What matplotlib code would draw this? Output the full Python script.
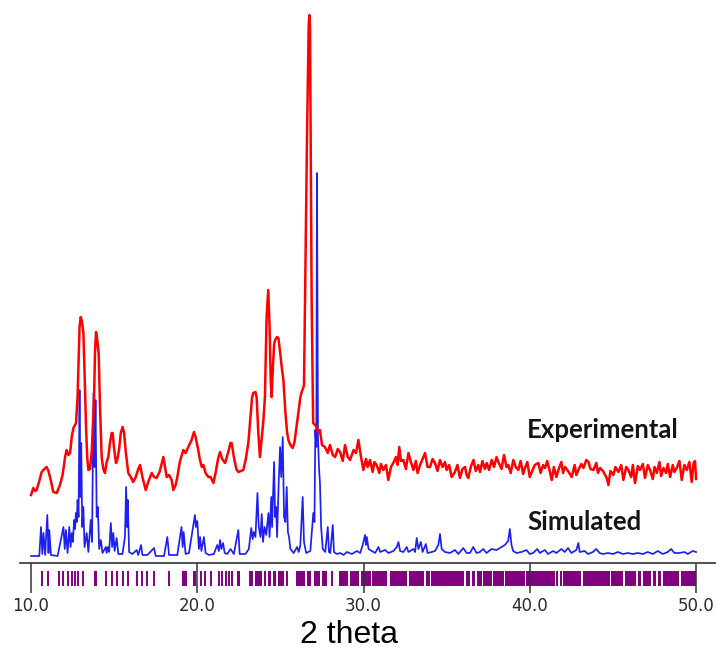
import numpy as np
import matplotlib
matplotlib.use('Agg')
import matplotlib.pyplot as plt

# experimental powder pattern (2theta, intensity)
exp_points = [
    (10.0, 62), (10.14, 69), (10.25, 66), (10.34, 67), (10.5, 76), (10.64, 85), (10.8, 88),
    (10.94, 90), (11.05, 86), (11.2, 76), (11.34, 65), (11.55, 64), (11.74, 72), (11.9, 82),
    (12.05, 100), (12.14, 107), (12.25, 102), (12.35, 104), (12.45, 120), (12.55, 129), (12.71, 134),
    (12.8, 160), (12.85, 190), (12.92, 230), (12.99, 240), (13.06, 236), (13.15, 224), (13.22, 185),
    (13.31, 130), (13.38, 100), (13.45, 87), (13.55, 88), (13.65, 105), (13.72, 130), (13.79, 157),
    (13.85, 205), (13.91, 225), (13.98, 218), (14.07, 204), (14.15, 150), (14.25, 100), (14.35, 88),
    (14.45, 84), (14.55, 95), (14.65, 100), (14.75, 114), (14.85, 124), (14.91, 124), (15.0, 108),
    (15.11, 94), (15.2, 98), (15.3, 108), (15.4, 124), (15.51, 130), (15.6, 124), (15.7, 105),
    (15.85, 84), (16.0, 80), (16.15, 75), (16.3, 80), (16.45, 88), (16.56, 92), (16.7, 80),
    (16.9, 67), (17.05, 75), (17.26, 84), (17.4, 80), (17.56, 79), (17.75, 86), (17.96, 100),
    (18.06, 90), (18.16, 80), (18.3, 82), (18.46, 77), (18.56, 67), (18.7, 72), (18.8, 80),
    (18.95, 95), (19.16, 107), (19.3, 104), (19.46, 110), (19.66, 117), (19.8, 125), (19.9, 120),
    (20.06, 107), (20.15, 98), (20.27, 90), (20.37, 92), (20.5, 84), (20.67, 80), (20.8, 80),
    (20.97, 74), (21.1, 84), (21.25, 98), (21.37, 105), (21.5, 98), (21.67, 94), (21.85, 104),
    (22.0, 114), (22.07, 114), (22.2, 100), (22.35, 88), (22.47, 85), (22.62, 86), (22.77, 87),
    (22.92, 98), (23.07, 114), (23.2, 140), (23.3, 160), (23.37, 164), (23.5, 165), (23.57, 160),
    (23.67, 125), (23.77, 100), (23.87, 118), (23.97, 135), (24.07, 160), (24.17, 240), (24.27, 267),
    (24.35, 230), (24.42, 175), (24.47, 160), (24.55, 190), (24.62, 212), (24.68, 217), (24.8, 220),
    (24.88, 219), (24.98, 205), (25.08, 190), (25.18, 177), (25.3, 145), (25.4, 125), (25.48, 117),
    (25.6, 112), (25.74, 109), (25.85, 115), (25.95, 128), (26.08, 144), (26.2, 160), (26.28, 165),
    (26.35, 168), (26.42, 172), (26.48, 257), (26.6, 420), (26.7, 530), (26.74, 542), (26.78, 530),
    (26.88, 257), (26.97, 134), (27.08, 132), (27.18, 130), (27.28, 124), (27.38, 127), (27.5, 112),
    (27.68, 110), (27.85, 104), (27.98, 112), (28.15, 102), (28.29, 100), (28.45, 108),
    (28.59, 105), (28.75, 96), (28.89, 112), (29.05, 100), (29.19, 97), (29.4, 107), (29.55, 104),
    (29.69, 117), (29.85, 100), (29.99, 87), (30.15, 98), (30.25, 90), (30.39, 97), (30.55, 85),
    (30.65, 95), (30.79, 92), (30.95, 84), (31.05, 93), (31.19, 87), (31.35, 92), (31.49, 77),
    (31.65, 90), (31.79, 94), (31.95, 100), (32.05, 92), (32.15, 110), (32.25, 96), (32.4, 97),
    (32.55, 88), (32.7, 104), (32.85, 95), (33.0, 87), (33.15, 96), (33.25, 84), (33.4, 92),
    (33.55, 98), (33.7, 104), (33.85, 90), (34.0, 90), (34.15, 98), (34.3, 94), (34.45, 86),
    (34.6, 97), (34.75, 90), (34.9, 95), (35.0, 87), (35.15, 92), (35.3, 80), (35.5, 85),
    (35.65, 92), (35.8, 79), (35.95, 88), (36.11, 90), (36.2, 82), (36.3, 79), (36.45, 90),
    (36.61, 97), (36.75, 86), (36.9, 92), (37.01, 85), (37.15, 96), (37.3, 88), (37.41, 94),
    (37.55, 87), (37.71, 97), (37.85, 90), (38.0, 100), (38.11, 95), (38.3, 88), (38.45, 102),
    (38.6, 90), (38.71, 92), (38.85, 84), (39.01, 97), (39.15, 90), (39.31, 87), (39.45, 96),
    (39.6, 83), (39.71, 89), (39.85, 95), (40.0, 80), (40.12, 85), (40.3, 92), (40.52, 94),
    (40.65, 84), (40.8, 92), (40.92, 89), (41.05, 96), (41.2, 86), (41.32, 77), (41.45, 90),
    (41.6, 80), (41.72, 87), (41.9, 95), (42.0, 84), (42.12, 90), (42.3, 86), (42.52, 80),
    (42.7, 92), (42.8, 82), (42.92, 87), (43.1, 93), (43.23, 89), (43.4, 97), (43.53, 95),
    (43.65, 88), (43.83, 87), (44.0, 94), (44.1, 84), (44.23, 89), (44.4, 86), (44.63, 79),
    (44.73, 72), (44.85, 86), (45.03, 82), (45.15, 90), (45.33, 85), (45.5, 92), (45.63, 77),
    (45.8, 90), (45.93, 87), (46.1, 80), (46.2, 92), (46.33, 74), (46.5, 91), (46.63, 87),
    (46.8, 93), (46.93, 79), (47.1, 92), (47.23, 87), (47.4, 78), (47.5, 90), (47.64, 84),
    (47.8, 95), (47.9, 81), (48.04, 89), (48.2, 84), (48.3, 93), (48.44, 80), (48.6, 92),
    (48.7, 85), (48.84, 89), (49.0, 96), (49.14, 77), (49.3, 92), (49.44, 87), (49.6, 95),
    (49.74, 75), (49.85, 94), (49.94, 96), (50.0, 78),
]

# simulated pattern from the single crystal structure
sim_points = [
    (10.0, 1), (10.5, 1), (10.6, 30), (10.68, 3), (10.75, 24), (10.85, 2), (10.98, 42), (11.05, 4),
    (11.1, 27), (11.2, 2), (11.6, 1), (11.95, 30), (12.03, 8), (12.1, 27), (12.2, 4), (12.3, 30),
    (12.38, 10), (12.45, 24), (12.52, 15), (12.59, 37), (12.65, 28), (12.7, 44), (12.75, 35),
    (12.8, 57), (12.86, 40), (12.92, 167), (12.97, 60), (13.02, 114), (13.08, 30), (13.15, 50),
    (13.22, 10), (13.35, 24), (13.45, 5), (13.59, 37), (13.67, 15), (13.76, 164), (13.82, 90),
    (13.88, 157), (13.95, 40), (14.02, 50), (14.1, 8), (14.2, 17), (14.3, 4), (14.5, 10), (14.55, 4),
    (14.62, 10), (14.7, 5), (14.8, 34), (14.88, 10), (14.95, 24), (15.03, 6), (15.15, 19), (15.25, 3),
    (15.5, 3), (15.65, 20), (15.72, 70), (15.78, 30), (15.82, 57), (15.9, 5), (16.1, 3), (16.36, 7),
    (16.45, 2), (16.62, 12), (16.7, 2), (17.0, 2), (17.4, 9), (17.5, 1), (18.0, 1), (18.2, 20),
    (18.3, 2), (18.8, 2), (19.05, 30), (19.12, 10), (19.18, 25), (19.3, 3), (19.5, 4), (19.75, 30),
    (19.86, 42), (19.92, 30), (20.0, 36), (20.1, 8), (20.17, 20), (20.25, 6), (20.4, 20), (20.5, 4),
    (20.7, 2), (21.0, 3), (21.2, 12), (21.3, 6), (21.37, 17), (21.45, 8), (21.55, 14), (21.65, 4),
    (21.8, 3), (22.0, 8), (22.2, 3), (22.47, 27), (22.55, 3), (22.9, 3), (23.1, 8), (23.25, 29),
    (23.33, 18), (23.4, 25), (23.5, 20), (23.62, 64), (23.7, 30), (23.8, 20), (23.88, 43), (23.95, 15),
    (24.05, 30), (24.15, 22), (24.28, 44), (24.35, 20), (24.45, 60), (24.5, 30), (24.62, 95),
    (24.68, 40), (24.75, 50), (24.8, 20), (24.9, 75), (24.98, 110), (25.05, 80), (25.14, 120),
    (25.22, 40), (25.3, 35), (25.38, 70), (25.45, 25), (25.52, 20), (25.6, 8), (25.8, 4), (26.0, 10),
    (26.1, 5), (26.2, 12), (26.34, 60), (26.42, 15), (26.55, 4), (26.8, 6), (26.98, 44), (27.05, 35),
    (27.1, 127), (27.16, 110), (27.2, 384), (27.26, 120), (27.32, 90), (27.38, 74), (27.45, 30),
    (27.55, 8), (27.7, 5), (27.85, 30), (27.92, 5), (28.0, 4), (28.15, 32), (28.22, 5), (28.4, 3),
    (28.6, 4), (28.8, 2), (29.0, 5), (29.3, 3), (29.6, 6), (29.8, 4), (29.95, 12), (30.09, 22),
    (30.15, 12), (30.2, 20), (30.3, 8), (30.5, 6), (30.7, 4), (30.9, 10), (31.0, 5), (31.3, 7),
    (31.5, 4), (31.8, 6), (32.0, 10), (32.1, 15), (32.2, 6), (32.4, 5), (32.6, 10), (32.7, 5),
    (33.0, 8), (33.1, 5), (33.2, 19), (33.3, 8), (33.45, 15), (33.55, 5), (33.75, 13), (33.85, 4),
    (34.1, 5), (34.3, 6), (34.5, 12), (34.6, 23), (34.7, 8), (34.9, 5), (35.2, 4), (35.5, 7),
    (35.7, 3), (36.0, 9), (36.2, 4), (36.4, 4), (36.6, 10), (36.8, 4), (37.0, 5), (37.2, 8),
    (37.4, 4), (37.7, 8), (38.0, 7), (38.3, 10), (38.5, 12), (38.7, 16), (38.8, 28), (38.9, 12),
    (39.0, 6), (39.2, 4), (39.5, 5), (39.8, 7), (40.0, 3), (40.2, 4), (40.45, 8), (40.6, 4),
    (40.9, 7), (41.1, 3), (41.4, 6), (41.6, 4), (41.9, 8), (42.1, 5), (42.3, 9), (42.5, 4),
    (42.8, 7), (42.92, 14), (43.0, 5), (43.3, 6), (43.5, 3), (43.8, 5), (44.0, 8), (44.2, 4),
    (44.4, 3), (44.7, 4), (45.0, 3), (45.3, 5), (45.6, 3), (45.9, 4), (46.2, 3), (46.5, 4),
    (46.8, 3), (47.1, 5), (47.4, 3), (47.7, 6), (48.0, 3), (48.3, 5), (48.5, 8), (48.7, 4),
    (49.0, 4), (49.3, 5), (49.5, 3), (49.8, 6), (50.0, 5),
]

# reflection markers: isolated lines and the regions where they merge into blocks
ref_lines = [10.64, 11.0, 11.71, 11.95, 12.25, 12.45, 12.65, 12.85, 13.11, 13.87, 13.93,
             14.52, 14.86, 15.2, 15.56, 15.82, 16.37, 16.67, 16.97, 17.37, 18.27,
             20.2, 20.45, 20.85, 21.3, 21.5, 21.7, 21.9, 22.1, 23.2, 23.3, 25.4, 28.1]
ref_bands = [(19.08, 19.36), (19.75, 19.95), (22.38, 22.6), (23.45, 23.9), (24.0, 24.16),
             (24.24, 24.44), (24.54, 24.76), (24.84, 25.24), (25.96, 26.5), (26.6, 26.85),
             (27.05, 27.41), (27.5, 27.81), (28.5, 29.06), (29.18, 29.72), (29.82, 30.42),
             (30.52, 31.43), (31.59, 32.63), (32.73, 33.63), (33.73, 34.0), (34.08, 36.07),
             (36.15, 36.43), (36.51, 36.73), (36.81, 37.13), (37.21, 37.72), (37.8, 38.42),
             (38.5, 39.72), (39.8, 41.52), (41.6, 41.72), (41.8, 41.92), (42.0, 43.1),
             (43.2, 44.8), (44.9, 45.6), (45.7, 46.4), (46.5, 46.7), (46.8, 47.3),
             (47.4, 47.6), (47.7, 47.9), (48.0, 49.0), (49.1, 50.0)]

tick_positions = [10, 20, 30, 40, 50]
tick_labels = ['10.0', '20.0', '30.0', '40.0', '50.0']

exp_2theta, exp_counts = np.array(exp_points).T
sim_2theta, sim_counts = np.array(sim_points).T

fig = plt.figure(figsize=(7.16, 6.54), dpi=100)
ax = fig.add_axes([0, 0, 1, 1])
ax.set_xlim(8.135, 51.2)
ax.set_ylim(-97, 557)

ax.plot(sim_2theta, sim_counts, color='#2020ee', lw=1.25, zorder=2)
ax.plot(exp_2theta, exp_counts, color='#ff0000', lw=1.8, zorder=3, solid_joinstyle='round')

ax.vlines(ref_lines, -29, -14, color='#800080', lw=1.4)
ax.broken_barh([(a, b - a) for a, b in ref_bands], (-29, 15), color='#800080', lw=0)

ax.text(39.83, 119, 'Experimental', fontsize=18.5, fontweight='bold', family='Lato',
        color='#151515', ha='left', va='baseline')
ax.text(39.83, 27, 'Simulated', fontsize=18.5, fontweight='bold', family='Lato',
        color='#151515', ha='left', va='baseline')

for side in ['top', 'right', 'left']:
    ax.spines[side].set_visible(False)
ax.spines['bottom'].set_position(('data', -6))
ax.spines['bottom'].set_bounds(9.34, 51.2)
ax.spines['bottom'].set_color('#333333')
ax.spines['bottom'].set_linewidth(1.2)
ax.set_yticks([])
ax.set_xticks(tick_positions)
ax.set_xticklabels(tick_labels)
ax.tick_params(axis='x', direction='out', length=21.6, width=1.1, color='#333333',
               labelsize=12, labelcolor='#2a2a2a', pad=3.2)
ax.set_xlabel('2 theta', fontsize=23, family='Liberation Sans', labelpad=3, x=0.487)

fig.savefig('out.png', dpi=100)
